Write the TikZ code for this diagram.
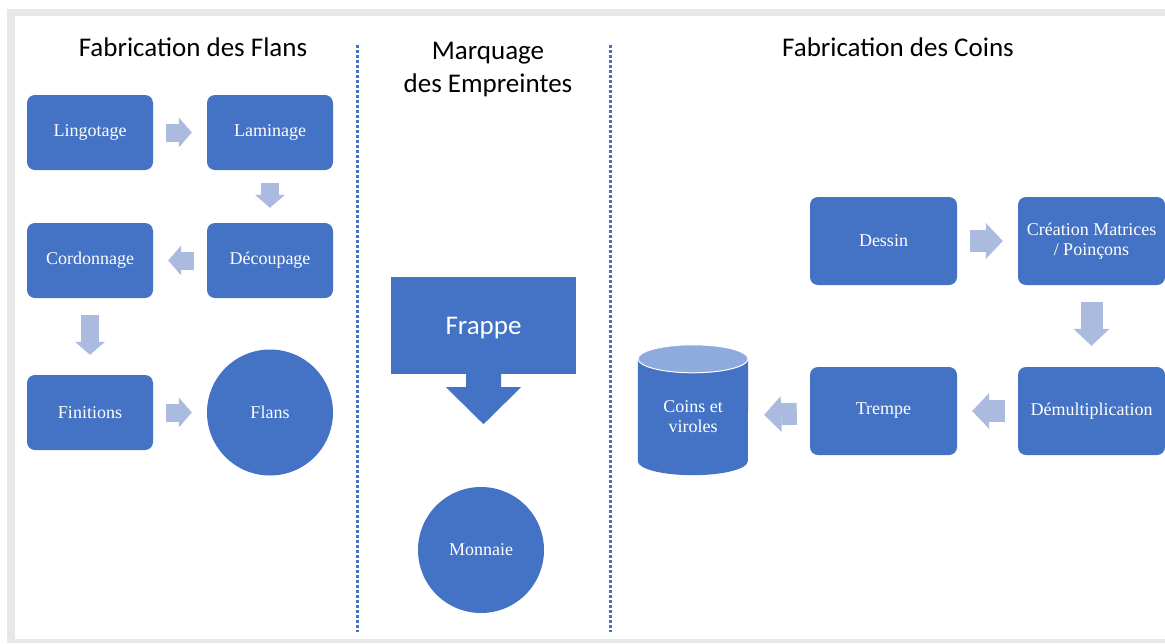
\documentclass[tikz,border=0pt]{standalone}
\usepackage{fontspec}
\setmainfont{Liberation Serif}
\newfontfamily\calibrifont{Carlito}
\usetikzlibrary{arrows.meta}
\definecolor{boxblue}{HTML}{4472C4}
\definecolor{arrowblue}{HTML}{ABBADF}
\definecolor{topblue}{HTML}{8FAADC}
\definecolor{framegray}{HTML}{E7E7E8}
\tikzset{
  stage/.style={rectangle, rounded corners=8pt, fill=boxblue, text=white,
    minimum width=126pt, minimum height=75pt, align=center,
    font=\fontsize{18}{20}\selectfont},
  bigstage/.style={stage, minimum width=147pt, minimum height=88pt},
  disc/.style={circle, fill=boxblue, text=white, minimum size=126pt,
    inner sep=0pt, font=\fontsize{18}{20}\selectfont},
  heading/.style={font=\calibrifont\fontsize{27}{33}\selectfont, align=center},
  flow/.style={draw=arrowblue, line width=18pt,
    -{Triangle[width=30pt,length=13pt,line width=0pt]},
    shorten <=13pt, shorten >=15pt},
  bigflow/.style={flow, line width=22pt,
    -{Triangle[width=36pt,length=17pt,line width=0pt]}},
  divider/.style={draw=boxblue, line width=3pt, dash pattern=on 3pt off 2pt}
}
\begin{document}
\begin{tikzpicture}[x=1pt,y=-1pt]
  \useasboundingbox (0,0) rectangle (1165,643);
  % cadre
  \fill[framegray] (7,9) rectangle (1165,643);
  \fill[white] (15,16) rectangle (1165,639);

  % titres et separations
  \path
    (193,47) node[heading] (tflans) {Fabrication des Flans}
    (488,70) node[heading] (tmarq) {Marquage\\des Empreintes}
    (898,47) node[heading] (tcoins) {Fabrication des Coins};
  \draw[divider] (357,45) -- (357,632);
  \draw[divider] (610,45) -- (610,632);

  % flans
  \path
    (90,132.5) node[stage] (lingot) {Lingotage}
    (270,132.5) node[stage] (lamin) {Laminage}
    (270,260.5) node[stage] (decoup) {Découpage}
    (90,260.5) node[stage] (cordon) {Cordonnage}
    (90,412.5) node[stage] (finit) {Finitions}
    (270,412.5) node[disc] (flans) {Flans};

  % empreintes
  \node[fill=boxblue, text=white, minimum width=185pt, minimum height=97pt,
    text depth=0pt, font=\calibrifont\fontsize{27}{32}\selectfont] (frappe) at (483.5,325.5) {Frappe};
  \fill[boxblue] ([xshift=-17.5pt,yshift=1pt]frappe.south) -- ++(0,14) -- ++(-20,0)
    -- ++(37.5,37) -- ++(37.5,-37) -- ++(-20,0) -- ++(0,-14) -- cycle;
  \node[disc] (monnaie) at (481,550) {Monnaie};

  % coins
  \path
    (883.5,241) node[bigstage] (dessin) {Dessin}
    (1091.5,241) node[bigstage] (matrice) {Création Matrices\\/ Poinçons}
    (1091.5,411) node[bigstage] (demult) {Démultiplication}
    (883.5,411) node[bigstage] (trempe) {Trempe};
  \node[minimum width=110pt, minimum height=116pt, inner sep=0pt] (coins) at (693,417) {};
  \fill[boxblue] (coins.north west) -- ([yshift=14pt]coins.south west)
    arc[start angle=180, end angle=360, x radius=55pt, y radius=14pt]
    -- (coins.north east) -- cycle;
  \filldraw[fill=topblue, draw=white, line width=1pt] (coins.north)
    ellipse[x radius=55pt, y radius=14pt];
  \node[text=white, align=center, font=\fontsize{18}{20}\selectfont] at (coins) {Coins et\\viroles};

  \begin{scope}[flow]
    \draw (lingot) to (lamin);
    \draw (lamin) to (decoup);
    \draw (decoup) to (cordon);
    \draw[shorten <=17pt, shorten >=20pt] (cordon) to (finit);
    \draw (finit) to (flans);
  \end{scope}
  \begin{scope}[bigflow]
    \draw (dessin) to (matrice);
    \draw[shorten <=17pt, shorten >=21pt] (matrice) to (demult);
    \draw (demult) to (trempe);
    \draw[shorten >=16pt] (trempe) to (coins);
  \end{scope}
\end{tikzpicture}
\end{document}
